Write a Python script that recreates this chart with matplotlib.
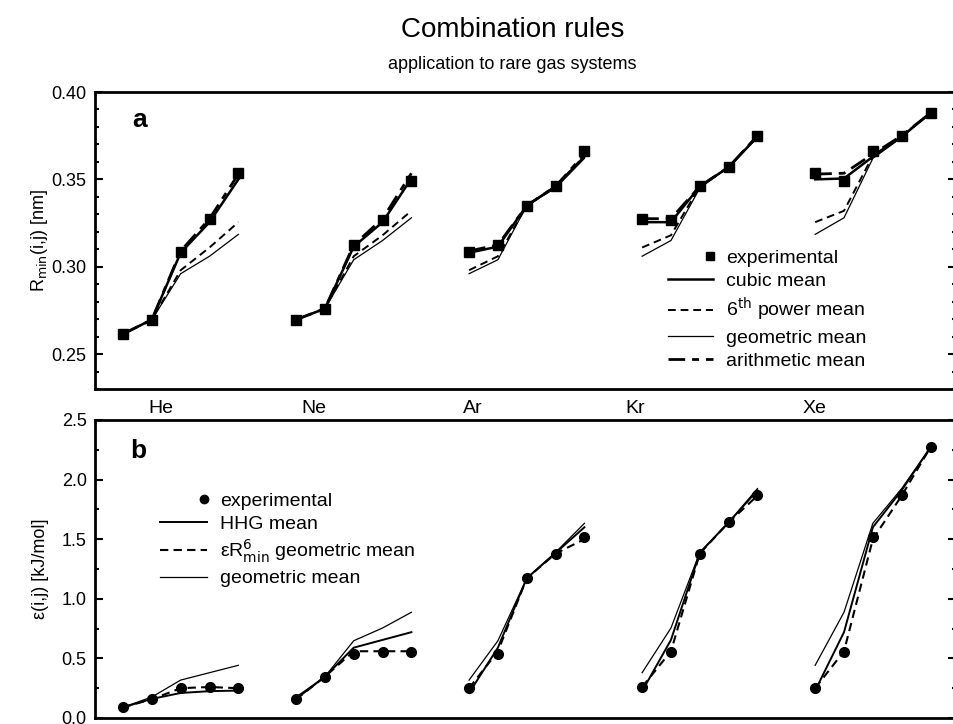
import numpy as np
import matplotlib
matplotlib.use('Agg')
import matplotlib.pyplot as plt
from matplotlib.lines import Line2D
from matplotlib.legend_handler import HandlerLine2D
from matplotlib.ticker import MultipleLocator, FormatStrFormatter

plt.rcParams['font.family'] = ['Liberation Sans', 'DejaVu Sans']

gases = ['He', 'Ne', 'Ar', 'Kr', 'Xe']

# R_min(i,j) [nm], rows i, columns j (He, Ne, Ar, Kr, Xe)
r_exp = [[0.2615, 0.2697, 0.3087, 0.3273, 0.3535],
         [0.2697, 0.2760, 0.3126, 0.3269, 0.3493],
         [0.3087, 0.3126, 0.3350, 0.3460, 0.3665],
         [0.3273, 0.3269, 0.3460, 0.3570, 0.3750],
         [0.3535, 0.3493, 0.3665, 0.3750, 0.3880]]
r_cubic = [[0.2615, 0.2697, 0.3080, 0.3255, 0.3500],
           [0.2697, 0.2760, 0.3115, 0.3255, 0.3505],
           [0.3080, 0.3115, 0.3350, 0.3460, 0.3630],
           [0.3255, 0.3255, 0.3460, 0.3570, 0.3745],
           [0.3500, 0.3505, 0.3630, 0.3745, 0.3880]]
r_sixth = [[0.2615, 0.2697, 0.2980, 0.3110, 0.3255],
           [0.2697, 0.2760, 0.3060, 0.3180, 0.3320],
           [0.2980, 0.3060, 0.3350, 0.3460, 0.3635],
           [0.3110, 0.3180, 0.3460, 0.3570, 0.3750],
           [0.3255, 0.3320, 0.3635, 0.3750, 0.3880]]
r_geom = [[0.2615, 0.2697, 0.2960, 0.3060, 0.3185],
          [0.2697, 0.2760, 0.3040, 0.3150, 0.3280],
          [0.2960, 0.3040, 0.3350, 0.3450, 0.3620],
          [0.3060, 0.3150, 0.3450, 0.3570, 0.3740],
          [0.3185, 0.3280, 0.3620, 0.3740, 0.3880]]
r_arith = [[0.2615, 0.2697, 0.3090, 0.3275, 0.3530],
           [0.2697, 0.2760, 0.3125, 0.3275, 0.3535],
           [0.3090, 0.3125, 0.3350, 0.3460, 0.3645],
           [0.3275, 0.3275, 0.3460, 0.3570, 0.3750],
           [0.3530, 0.3535, 0.3645, 0.3750, 0.3880]]

# epsilon(i,j) [kJ/mol]
e_exp = [[0.090, 0.157, 0.249, 0.263, 0.249],
         [0.157, 0.346, 0.534, 0.556, 0.556],
         [0.249, 0.534, 1.172, 1.378, 1.518],
         [0.263, 0.556, 1.378, 1.641, 1.871],
         [0.249, 0.556, 1.518, 1.871, 2.271]]
e_hhg = [[0.090, 0.160, 0.210, 0.225, 0.230],
         [0.160, 0.346, 0.590, 0.655, 0.720],
         [0.210, 0.590, 1.172, 1.385, 1.600],
         [0.225, 0.655, 1.385, 1.641, 1.910],
         [0.230, 0.720, 1.600, 1.910, 2.271]]
e_er6 = [[0.090, 0.157, 0.250, 0.260, 0.250],
         [0.157, 0.346, 0.560, 0.560, 0.560],
         [0.250, 0.560, 1.172, 1.380, 1.500],
         [0.260, 0.560, 1.380, 1.641, 1.865],
         [0.250, 0.560, 1.500, 1.865, 2.271]]
e_geom = [[0.090, 0.176, 0.318, 0.380, 0.442],
          [0.176, 0.346, 0.648, 0.755, 0.887],
          [0.318, 0.648, 1.172, 1.390, 1.633],
          [0.380, 0.755, 1.390, 1.641, 1.925],
          [0.442, 0.887, 1.633, 1.925, 2.271]]


class RightMarker(HandlerLine2D):
    # single legend marker sits at the right end of the handle, next to the text
    def get_xdata(self, legend, xdescent, ydescent, width, height, fontsize):
        m = -xdescent + width - 0.15 * fontsize
        return [m - 1, m + 1], [m]


def draw_groups(ax, data, **kw):
    for g in range(5):
        x = np.arange(5) + 6 * g
        ax.plot(x, data[g], **kw)


def style_axes(ax):
    for s in ax.spines.values():
        s.set_linewidth(2)
    ax.set_xticks([])
    ax.tick_params(axis='y', which='both', direction='in', left=True, right=True,
                   labelsize=13, width=1.5, pad=6)
    ax.tick_params(axis='y', which='major', length=6)
    ax.tick_params(axis='y', which='minor', length=3)
    ax.set_xlim(-0.97, 28.9)


fig = plt.figure(figsize=(9.54, 7.24), dpi=100)
ax1 = fig.add_axes([0.0996, 0.4627, 0.903, 0.4102])
ax2 = fig.add_axes([0.0996, 0.0083, 0.903, 0.4116])

# panel a
draw_groups(ax1, r_geom, color='black', lw=0.9)
draw_groups(ax1, r_sixth, color='black', lw=1.4, ls=(0, (4, 2.5)))
draw_groups(ax1, r_arith, color='black', lw=2.0, ls=(0, (6, 2.5, 2.5, 2.5)))
draw_groups(ax1, r_cubic, color='black', lw=1.8)
for g in range(5):
    ax1.plot(np.arange(5) + 6 * g, r_exp[g], 's', color='black', ms=7, ls='none')

ax1.set_ylim(0.23, 0.40)
ax1.yaxis.set_major_locator(MultipleLocator(0.05))
ax1.yaxis.set_minor_locator(MultipleLocator(0.01))
ax1.yaxis.set_major_formatter(FormatStrFormatter('%.2f'))
style_axes(ax1)
ax1.set_ylabel(r'R$_{\mathrm{min}}$(i,j) [nm]', fontsize=13, labelpad=1)
ax1.text(0.052, 0.905, 'a', transform=ax1.transAxes, fontsize=19, fontweight='bold',
         ha='center', va='center')

h_a = [Line2D([], [], marker='s', color='black', ms=6, ls='none'),
       Line2D([], [], color='black', lw=1.8),
       Line2D([], [], color='black', lw=1.4, ls=(0, (4, 2.5))),
       Line2D([], [], color='black', lw=0.9),
       Line2D([], [], color='black', lw=2.0, ls=(0, (6, 2.5, 2.5, 2.5)))]
l_a = ['experimental', 'cubic mean', r'6$^{\mathrm{th}}$ power mean', 'geometric mean',
       'arithmetic mean']
ax1.legend(h_a, l_a, loc='upper left', bbox_to_anchor=(0.645, 0.53), frameon=False,
           fontsize=14, handlelength=2.3, handletextpad=0.7, labelspacing=0.3,
           handler_map={h_a[0]: RightMarker(numpoints=1)})

gas_x = [1.32, 6.63, 12.14, 17.77, 23.98]
for gx, name in zip(gas_x, gases):
    ax1.text(gx, 0.219, name, fontsize=14, ha='center', va='center')

# panel b
draw_groups(ax2, e_geom, color='black', lw=0.9)
draw_groups(ax2, e_er6, color='black', lw=1.5, ls=(0, (4, 2.5)))
draw_groups(ax2, e_hhg, color='black', lw=1.4)
for g in range(5):
    ax2.plot(np.arange(5) + 6 * g, e_exp[g], 'o', color='black', ms=7, ls='none')

ax2.set_ylim(0.0, 2.5)
ax2.yaxis.set_major_locator(MultipleLocator(0.5))
ax2.yaxis.set_minor_locator(MultipleLocator(0.25))
ax2.yaxis.set_major_formatter(FormatStrFormatter('%.1f'))
style_axes(ax2)
ax2.set_ylabel('ε(i,j) [kJ/mol]', fontsize=13, labelpad=9)
ax2.text(0.05, 0.897, 'b', transform=ax2.transAxes, fontsize=19, fontweight='bold',
         ha='center', va='center')

h_b = [Line2D([], [], marker='o', color='black', ms=6, ls='none'),
       Line2D([], [], color='black', lw=1.4),
       Line2D([], [], color='black', lw=1.5, ls=(0, (4, 2.5))),
       Line2D([], [], color='black', lw=0.9)]
l_b = ['experimental', 'HHG mean', r'εR$^{6}_{\mathrm{min}}$ geometric mean', 'geometric mean']
ax2.legend(h_b, l_b, loc='upper left', bbox_to_anchor=(0.055, 0.815), frameon=False,
           fontsize=14, handlelength=2.4, handletextpad=0.7, labelspacing=0.25,
           handler_map={h_b[0]: RightMarker(numpoints=1)})

fig.text(0.537, 0.958, 'Combination rules', fontsize=20, ha='center', va='center',
         family=['Liberation Sans Narrow', 'Liberation Sans', 'DejaVu Sans'])
fig.text(0.537, 0.911, 'application to rare gas systems', fontsize=13, ha='center',
         va='center', family=['Liberation Sans Narrow', 'Liberation Sans', 'DejaVu Sans'])

fig.savefig('out.png', dpi=100)
